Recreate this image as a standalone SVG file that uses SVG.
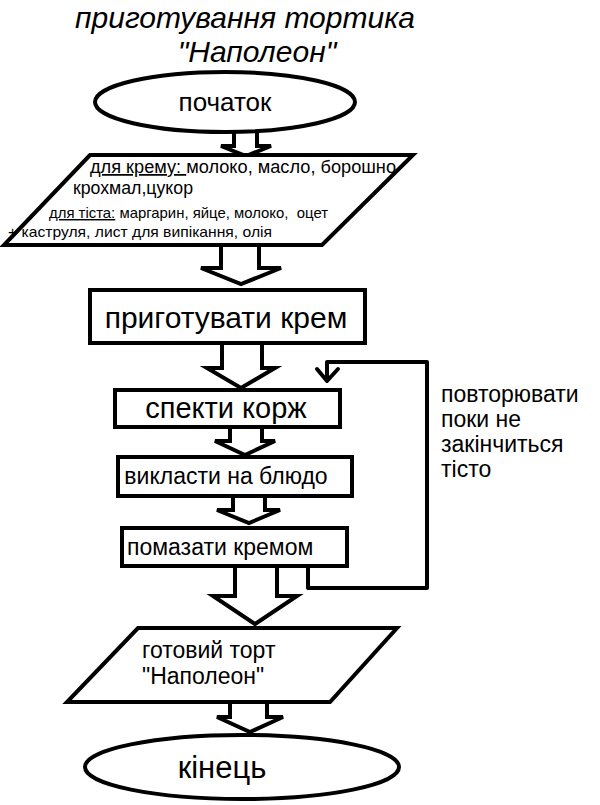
<svg xmlns="http://www.w3.org/2000/svg" width="600" height="805" viewBox="0 0 600 805">
<style>
text{font-family:"Liberation Sans",Arial,sans-serif;fill:#000}
.sh{fill:#fff;stroke:#000;stroke-width:4;stroke-linejoin:miter}
.ar{fill:#fff;stroke:#000;stroke-width:4;stroke-linejoin:miter}
.ln{fill:none;stroke:#000;stroke-width:4;stroke-linecap:round;stroke-linejoin:round}
.u{text-decoration:underline}
.t{font-size:30px;font-style:italic}
</style>
<rect width="600" height="805" fill="#fff"/>
<g id="title">
<text class="t" x="245" y="28" text-anchor="middle">приготування тортика</text>
<text class="t" x="257" y="62" text-anchor="middle">"Наполеон"</text>
</g>
<g id="connectors">
<polyline class="ar" points="234,130 234,146 221,146 246,156 271,146 257,146 257,130"/>
<polyline class="ar" points="221,246 221,268 201,268 241,284 281,268 259,268 259,246"/>
<polyline class="ar" points="222,343 222,368 207,368 241,388 275,368 262,368 262,343"/>
<polyline class="ar" points="230,426 230,441 215,441 245,455 275,441 262,441 262,426"/>
<polyline class="ar" points="233,496 233,510 217,510 249,523 280,510 265,510 265,496"/>
<polyline class="ar" points="235,566 235,596 213,596 255,624 297,596 277,596 277,566"/>
<polyline class="ar" points="230,701 230,717 217,717 250,732 283,717 267,717 267,701"/>
<polyline class="ln" points="308,567 308,588 427,588 427,362 327,362 327,380"/>
<polyline class="ln" points="317,369 327,381 338,369"/>
</g>
<g id="start">
<ellipse class="sh" cx="225" cy="102" rx="130" ry="30"/>
<text x="225" y="111" font-size="26" text-anchor="middle">початок</text>
</g>
<g id="ingredients">
<polygon class="sh" points="90,155 413,155 322,245 4,245"/>
<text x="90" y="173" font-size="17.5" textLength="306" lengthAdjust="spacingAndGlyphs"><tspan class="u">для крему: </tspan>молоко, масло, борошно</text>
<text x="73" y="194" font-size="17.5" textLength="120" lengthAdjust="spacingAndGlyphs">крохмал,цукор</text>
<text x="49" y="218" font-size="14.5" textLength="279" lengthAdjust="spacingAndGlyphs" xml:space="preserve"><tspan class="u">для тіста:</tspan> маргарин, яйце, молоко,  оцет</text>
<text x="8" y="237" font-size="14.5" textLength="264" lengthAdjust="spacingAndGlyphs">+ каструля, лист для випікання, олія</text>
</g>
<g id="cream">
<rect class="sh" x="90" y="290" width="275" height="53"/>
<text x="226" y="328" font-size="30" text-anchor="middle">приготувати крем</text>
</g>
<g id="bake">
<rect class="sh" x="115" y="390" width="225" height="37"/>
<text x="226" y="418" font-size="29" text-anchor="middle">спекти корж</text>
</g>
<g id="plate">
<rect class="sh" x="118" y="457" width="234" height="39"/>
<text x="226" y="484" font-size="23" text-anchor="middle">викласти на блюдо</text>
</g>
<g id="spread">
<rect class="sh" x="122" y="528" width="225" height="38"/>
<text x="127" y="555" font-size="23">помазати кремом</text>
</g>
<g id="loop-label">
<text x="441" y="402" font-size="23">повторювати</text>
<text x="441" y="427" font-size="23">поки не</text>
<text x="441" y="452" font-size="23">закінчиться</text>
<text x="441" y="477" font-size="23">тісто</text>
</g>
<g id="result">
<polygon class="sh" points="138,628 397,628 330,702 67,702"/>
<text x="142" y="658" font-size="23">готовий торт</text>
<text x="142" y="684" font-size="23">"Наполеон"</text>
</g>
<g id="end">
<ellipse class="sh" cx="242" cy="767" rx="157" ry="32"/>
<text x="222" y="778" font-size="31" text-anchor="middle">кінець</text>
</g>
</svg>
